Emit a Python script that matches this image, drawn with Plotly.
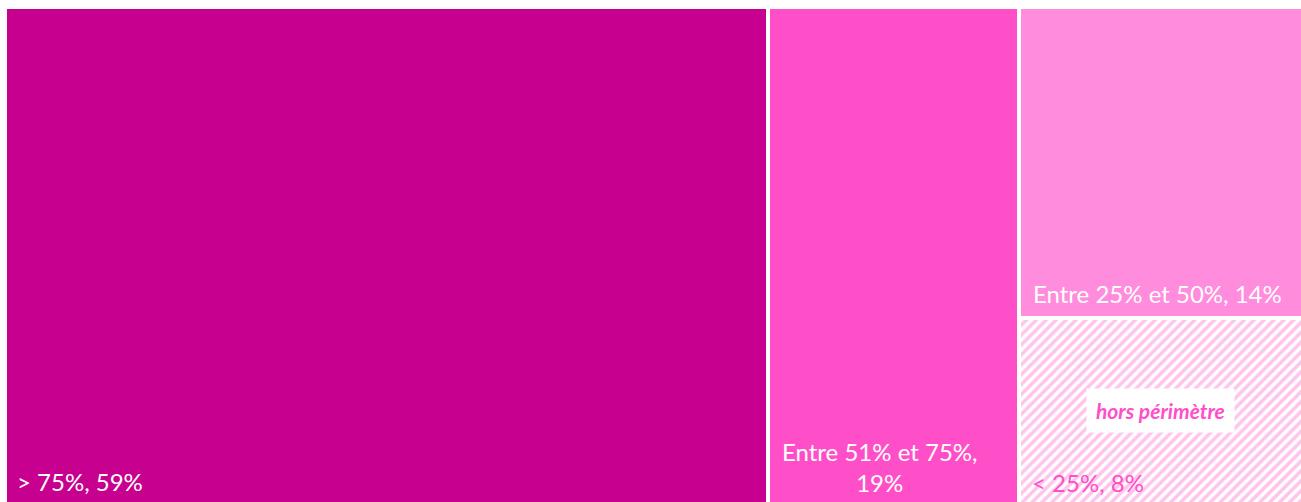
import plotly.graph_objects as go

# ---- data ----
categories = ["> 75%", "Entre 51% et 75%", "Entre 25% et 50%", "< 25%"]
values = [58.8, 19.3, 13.7, 8.2]          # share of total (%)
shown_pct = [59, 19, 14, 8]               # rounded labels as displayed
colors = ["#C8008F", "#FF4FC8", "#FF8CDC", "#FFFFFF"]
note_text = "hors périmètre"

W, H = 1301, 502
LINE = 4
OX, OY = 5, 7          # pixel position of the treemap's outer line (left / top)

total = sum(values)
right_total = values[2] + values[3]

# geometry of the treemap (two big tiles side by side, right column split vertically)
x0 = [0, values[0], values[0] + values[1], values[0] + values[1]]
wdt = [values[0], values[1], right_total, right_total]
base = [0, 0, values[3] / right_total, 0]
hgt = [1, 1, values[2] / right_total, values[3] / right_total]

fig = go.Figure()
for i in range(4):
    marker = dict(color=colors[i], line=dict(color="white", width=LINE))
    if i == 3:
        marker["pattern"] = dict(shape="/", fgcolor="#FFC4EC", bgcolor="white",
                                 size=7, solidity=0.5, fillmode="replace")
    fig.add_trace(go.Bar(
        x=[x0[i] + wdt[i] / 2], y=[hgt[i]], base=[base[i]], width=[wdt[i]],
        marker=marker, name=categories[i], hoverinfo="skip", showlegend=False,
    ))

sx = (W + 2 - OX) / total
sy = (H + 2 - OY)
ybot = 2 / sy           # data value at the bottom edge of the picture
FONT = "Lato, Carlito, Calibri, sans-serif"
fs = 24
ann = [
    dict(x=x0[0], y=ybot, xshift=10, yshift=21, xanchor="left", yanchor="middle",
         text=f"{categories[0]}, {shown_pct[0]}%", font=dict(color="white", size=fs, family=FONT)),
    dict(x=x0[1], y=ybot, xshift=12, yshift=35, xanchor="left", yanchor="middle", align="center",
         text=f"{categories[1]},<br>{shown_pct[1]}%", font=dict(color="white", size=fs, family=FONT)),
    dict(x=x0[2], y=base[2], xshift=12, yshift=24, xanchor="left", yanchor="middle",
         text=f"{categories[2]}, {shown_pct[2]}%", font=dict(color="white", size=fs, family=FONT)),
    dict(x=x0[3], y=ybot, xshift=11, yshift=20, xanchor="left", yanchor="middle",
         text=f"{categories[3]}, {shown_pct[3]}%", font=dict(color="#FF4FC8", size=fs, family=FONT)),
    dict(x=x0[3] + wdt[3] / 2, y=base[3] + hgt[3] / 2, yshift=0, xanchor="center", yanchor="middle",
         text=note_text, bgcolor="white", borderpad=9,
         font=dict(color="#FF4FC8", size=21, family=FONT, weight="bold", style="italic")),
]
for a in ann:
    a.update(xref="x", yref="y", showarrow=False)

fig.update_layout(
    width=W, height=H, margin=dict(l=0, r=0, t=0, b=0),
    paper_bgcolor="white", plot_bgcolor="white",
    barmode="overlay", bargap=0,
    xaxis=dict(range=[-OX / sx, (W - OX) / sx], visible=False, fixedrange=True),
    yaxis=dict(range=[ybot, 1 + OY / sy], visible=False, fixedrange=True),
    annotations=ann,
)
fig.write_html(
    "out.html",
    config={"displayModeBar": False},
    post_script="document.body.style.margin='0';document.body.style.overflow='hidden';",
)
